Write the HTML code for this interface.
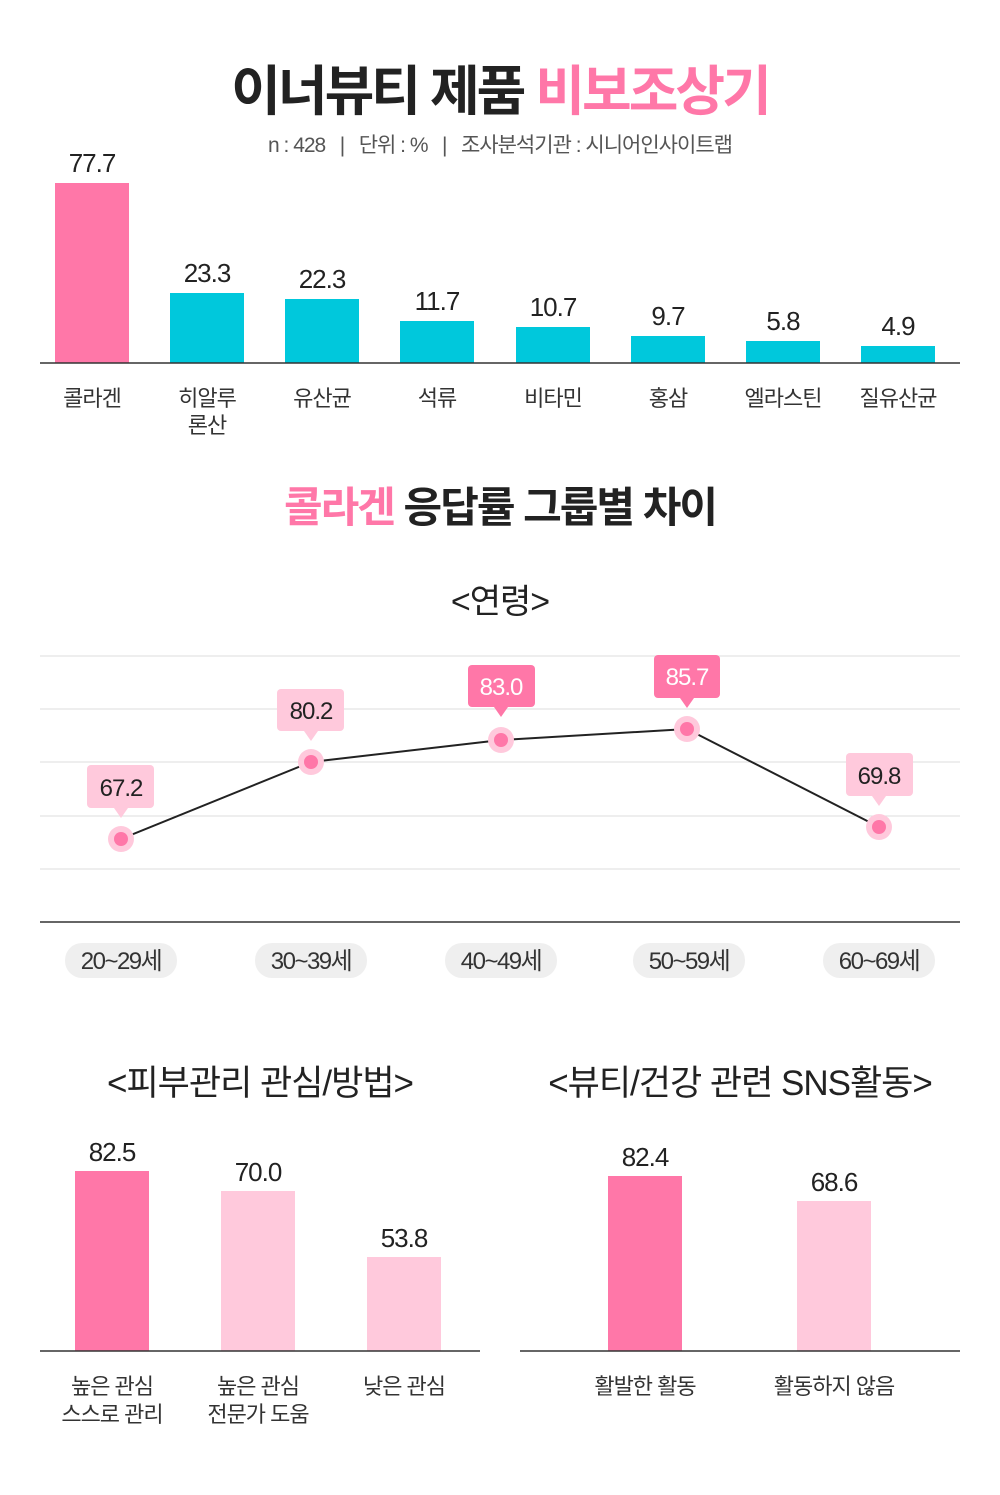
<!DOCTYPE html>
<html><head><meta charset="utf-8"><style>
body{margin:0;background:#fff;}
svg text{font-family:"Liberation Sans","Noto Sans CJK KR",sans-serif;}
</style></head><body>
<svg width="1000" height="1490" xmlns="http://www.w3.org/2000/svg">
<rect width="1000" height="1490" fill="#fff"/>
<text x="500" y="110" text-anchor="middle" font-size="54" font-weight="bold" letter-spacing="-3" fill="#222">이너뷰티 제품 <tspan fill="#ff77a8">비보조상기</tspan></text>
<text x="500" y="152" text-anchor="middle" font-size="21" fill="#555" letter-spacing="-1" xml:space="preserve">n : 428   |   단위 : %   |   조사분석기관 : 시니어인사이트랩</text>

<g font-size="26" fill="#222" text-anchor="middle" letter-spacing="-1">
<rect x="55" y="183" width="74" height="180" fill="#ff77a8"/><text x="92" y="172">77.7</text>
<rect x="170" y="293" width="74" height="70" fill="#00c8dc"/><text x="207" y="282">23.3</text>
<rect x="285" y="299" width="74" height="64" fill="#00c8dc"/><text x="322" y="288">22.3</text>
<rect x="400" y="321" width="74" height="42" fill="#00c8dc"/><text x="437" y="310">11.7</text>
<rect x="516" y="327" width="74" height="36" fill="#00c8dc"/><text x="553" y="316">10.7</text>
<rect x="631" y="336" width="74" height="27" fill="#00c8dc"/><text x="668" y="325">9.7</text>
<rect x="746" y="341" width="74" height="22" fill="#00c8dc"/><text x="783" y="330">5.8</text>
<rect x="861" y="346" width="74" height="17" fill="#00c8dc"/><text x="898" y="335">4.9</text>
</g>
<line x1="40" y1="363" x2="960" y2="363" stroke="#333" stroke-width="1.5"/>
<g font-size="22" fill="#333" text-anchor="middle" letter-spacing="-1">
<text x="92" y="406">콜라겐</text>
<text x="207" y="406">히알루</text><text x="207" y="433">론산</text>
<text x="322" y="406">유산균</text>
<text x="437" y="406">석류</text>
<text x="553" y="406">비타민</text>
<text x="668" y="406">홍삼</text>
<text x="783" y="406">엘라스틴</text>
<text x="898" y="406">질유산균</text>
</g>

<text x="500" y="522" text-anchor="middle" font-size="42" font-weight="bold" letter-spacing="-2" fill="#222"><tspan fill="#ff77a8">콜라겐</tspan> 응답률 그룹별 차이</text>
<text x="500" y="613" text-anchor="middle" font-size="34" fill="#222" letter-spacing="-1">&lt;연령&gt;</text>

<g stroke="#ddd" stroke-width="1">
<line x1="40" y1="656" x2="960" y2="656"/><line x1="40" y1="709" x2="960" y2="709"/>
<line x1="40" y1="762" x2="960" y2="762"/><line x1="40" y1="816" x2="960" y2="816"/>
<line x1="40" y1="869" x2="960" y2="869"/>
</g>
<line x1="40" y1="922" x2="960" y2="922" stroke="#333" stroke-width="1.5"/>
<polyline points="121,839 311,762 501,740 687,729 879,827" fill="none" stroke="#222" stroke-width="2"/>
<g fill="#ffc9dc"><circle cx="121" cy="839" r="13"/><circle cx="311" cy="762" r="13"/><circle cx="501" cy="740" r="13"/><circle cx="687" cy="729" r="13"/><circle cx="879" cy="827" r="13"/></g>
<g fill="#ff77a8"><circle cx="121" cy="839" r="7"/><circle cx="311" cy="762" r="7"/><circle cx="501" cy="740" r="7"/><circle cx="687" cy="729" r="7"/><circle cx="879" cy="827" r="7"/></g>
<g font-size="24" text-anchor="middle" letter-spacing="-1">
<rect x="87" y="765" width="67" height="43" rx="4" fill="#ffc9dc"/><polygon points="114,808 128,808 121,818" fill="#ffc9dc"/><text x="121" y="796" fill="#222">67.2</text>
<rect x="277" y="689" width="67" height="42" rx="4" fill="#ffc9dc"/><polygon points="304,731 318,731 311,741" fill="#ffc9dc"/><text x="311" y="719" fill="#222">80.2</text>
<rect x="468" y="665" width="67" height="42" rx="4" fill="#ff77a8"/><polygon points="494,707 508,707 501,717" fill="#ff77a8"/><text x="501" y="695" fill="#fff">83.0</text>
<rect x="654" y="655" width="66" height="43" rx="4" fill="#ff77a8"/><polygon points="680,698 694,698 687,708" fill="#ff77a8"/><text x="687" y="685" fill="#fff">85.7</text>
<rect x="846" y="753" width="67" height="43" rx="4" fill="#ffc9dc"/><polygon points="872,796 886,796 879,806" fill="#ffc9dc"/><text x="879" y="784" fill="#222">69.8</text>
</g>
<g fill="#efefef">
<rect x="65" y="943" width="112" height="35" rx="17"/><rect x="255" y="943" width="112" height="35" rx="17"/>
<rect x="445" y="943" width="112" height="35" rx="17"/><rect x="633" y="943" width="112" height="35" rx="17"/>
<rect x="823" y="943" width="112" height="35" rx="17"/>
</g>
<g font-size="24" fill="#333" text-anchor="middle" letter-spacing="-1.5">
<text x="121" y="969">20~29세</text><text x="311" y="969">30~39세</text><text x="501" y="969">40~49세</text><text x="689" y="969">50~59세</text><text x="879" y="969">60~69세</text>
</g>

<text x="260" y="1095" text-anchor="middle" font-size="35" fill="#222" letter-spacing="-1">&lt;피부관리 관심/방법&gt;</text>
<text x="740" y="1095" text-anchor="middle" font-size="35" fill="#222" letter-spacing="-1">&lt;뷰티/건강 관련 SNS활동&gt;</text>
<g font-size="26" fill="#222" text-anchor="middle" letter-spacing="-1">
<rect x="75" y="1171" width="74" height="180" fill="#ff77a8"/><text x="112" y="1161">82.5</text>
<rect x="221" y="1191" width="74" height="160" fill="#ffc9dc"/><text x="258" y="1181">70.0</text>
<rect x="367" y="1257" width="74" height="94" fill="#ffc9dc"/><text x="404" y="1247">53.8</text>
<rect x="608" y="1176" width="74" height="175" fill="#ff77a8"/><text x="645" y="1166">82.4</text>
<rect x="797" y="1201" width="74" height="150" fill="#ffc9dc"/><text x="834" y="1191">68.6</text>
</g>
<line x1="40" y1="1351" x2="480" y2="1351" stroke="#333" stroke-width="1.5"/>
<line x1="520" y1="1351" x2="960" y2="1351" stroke="#333" stroke-width="1.5"/>
<g font-size="22" fill="#333" text-anchor="middle" letter-spacing="-1">
<text x="112" y="1394">높은 관심</text><text x="112" y="1422">스스로 관리</text>
<text x="258" y="1394">높은 관심</text><text x="258" y="1422">전문가 도움</text>
<text x="404" y="1394">낮은 관심</text>
<text x="645" y="1394">활발한 활동</text>
<text x="834" y="1394">활동하지 않음</text>
</g>
</svg>
</body></html>
